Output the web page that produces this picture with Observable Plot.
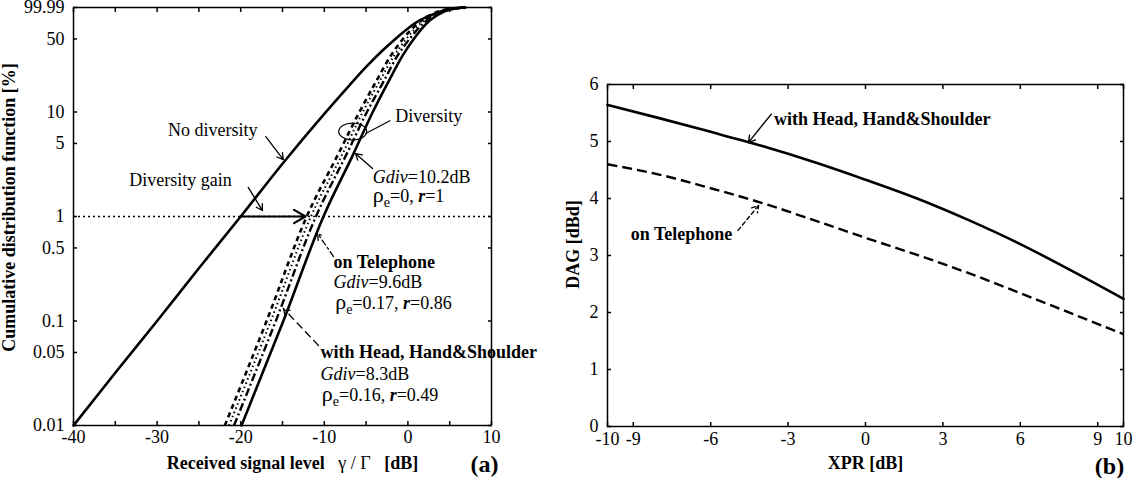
<!DOCTYPE html>
<html><head><meta charset="utf-8">
<script src="https://cdn.jsdelivr.net/npm/d3@7"></script>
<script src="https://cdn.jsdelivr.net/npm/@observablehq/plot@0.6"></script>
<style>
html,body{margin:0;padding:0;background:#fff;}
#wrap{position:relative;width:1134px;height:478px;overflow:hidden;background:#fff;}
#wrap svg{position:absolute;top:0;}
</style></head><body><div id="wrap"></div>
<script>
// ---------- Panel (a): CDF (x in dB, y in %) ----------
const xMajorA = [-40, -30, -20, -10, 0, 10];
const xMinorA = [-35, -25, -15, -5, 5];
const yTicksA = [0.01, 0.05, 0.1, 0.5, 1, 5, 10, 50, 99.99];

const noDivX = [-40, -35, -30, -25, -20, -15, -10, -7, -5, -3, -1.5, 0, 1.5, 3, 4.5, 6.6];
const noDivP = [0.01, 0.032, 0.1, 0.32, 1.0, 3.2, 9.6, 18, 27, 39, 50, 63, 76, 86, 94, 99.99];

const divLevels = [0.01, 0.1, 1, 4, 10, 19, 35, 50, 75, 92, 98.5, 99.99];
const dashedX   = [-21.9, -16.9, -12.1, -8.3, -5.8, -3.9, -2.0, -0.6, 1.6, 3.7, 5.5, 6.8];
const dottedX   = [-21.4, -16.4, -11.6, -7.8, -5.4, -3.5, -1.6, -0.2, 1.9, 3.9, 5.6, 6.8];
const dashDotX  = [-20.8, -15.8, -11.0, -7.3, -4.9, -3.0, -1.2, 0.2, 2.2, 4.1, 5.7, 6.9];
const solidX    = [-19.9, -14.9, -10.1, -6.5, -4.2, -2.4, -0.6, 0.7, 2.6, 4.4, 5.9, 6.9];

const refLevel = [1];
const gainArrow = [{x1: -20, y1: 1, x2: -12.25, y2: 1}];

const labelsA = [
  {x: -18.0, y: 6.7, text: "No diversity", anchor: "end"},
  {x: -27.2, y: 2.21, text: "Diversity gain", anchor: "middle"},
  {x: -1.5, y: 9.2, text: "Diversity", anchor: "start"},
  {x: -4.2, y: 2.36, text: "Gdiv=10.2dB", anchor: "start"},
  {x: -4.2, y: 1.56, text: "ρe=0, r=1", anchor: "start"},
  {x: -8.9, y: 0.233, text: "Gdiv=9.6dB", anchor: "start"},
  {x: -8.7, y: 0.148, text: "ρe=0.17, r=0.86", anchor: "start"},
  {x: -10.45, y: 0.0308, text: "Gdiv=8.3dB", anchor: "start"},
  {x: -10.3, y: 0.0196, text: "ρe=0.16, r=0.49", anchor: "start"}
];
const boldLabelsA = [
  {x: -8.9, y: 0.363, text: "on Telephone"},
  {x: -10.45, y: 0.050, text: "with Head, Hand&Shoulder"}
];
const solidLeadersA = [
  {x1: -17.0, y1: 5.8, x2: -14.9, y2: 3.5},
  {x1: -19.1, y1: 1.9, x2: -17.4, y2: 1.14},
  {x1: -4.23, y1: 2.88, x2: -6.27, y2: 4.0}
];
const plainLeaderA = [{x1: -2.1, y1: 8.3, x2: -5.1, y2: 6.2}];
const phoneLeaderA = [{x1: -8.9, y1: 0.414, x2: -10.8, y2: 0.687}];
const headLeaderA = [{x1: -10.7, y1: 0.0583, x2: -14.9, y2: 0.132}];
const ellipseA = [{x: -6.6, y: 6.5}];

// ---------- Panel (b): DAG vs XPR ----------
const xTicksB = [-10, -9, -6, -3, 0, 3, 6, 9, 10];
const yTicksB = [0, 1, 2, 3, 4, 5, 6];
const xprX     = [-10, -8, -6, -4, -2, 0, 2, 4, 6, 8, 10];
const headDAG  = [5.64, 5.41, 5.17, 4.92, 4.64, 4.33, 4.0, 3.62, 3.2, 2.73, 2.24];
const phoneDAG = [4.6, 4.42, 4.18, 3.92, 3.62, 3.31, 3.01, 2.69, 2.34, 1.98, 1.62];
const labelsB = [
  {x: -3.55, y: 5.39, text: "with Head, Hand&Shoulder"},
  {x: -9.1, y: 3.38, text: "on Telephone"}
];
const headArrowB = [{x1: -3.65, y1: 5.48, x2: -4.54, y2: 4.98}];
const phoneArrowB = [{x1: -4.94, y1: 3.44, x2: -4.14, y2: 3.88}];

// ---------- helpers ----------
const zip = (xs, ys) => xs.map((x, i) => ({x, y: ys[i]}));
const font = "'Liberation Serif', 'Times New Roman', serif";
const style = {fontFamily: font, fontSize: "18px", color: "black", background: "transparent", overflow: "visible"};
const k = 0.5523;
const ellipseSymbol = {
  draw(ctx) {
    const rx = 14, ry = 8.5;
    ctx.moveTo(rx, 0);
    ctx.bezierCurveTo(rx, ry * k, rx * k, ry, 0, ry);
    ctx.bezierCurveTo(-rx * k, ry, -rx, ry * k, -rx, 0);
    ctx.bezierCurveTo(-rx, -ry * k, -rx * k, -ry, 0, -ry);
    ctx.bezierCurveTo(rx * k, -ry, rx, -ry * k, rx, 0);
    ctx.closePath();
  }
};
const blank = () => "";
const fmt = d => String(d);
const arrowOpts = {x1: "x1", y1: "y1", x2: "x2", y2: "y2", stroke: "black", headLength: 8};
const titleOpts = {fontWeight: "bold", fontSize: 18, textAnchor: "middle", lineAnchor: "middle"};

const plotA = Plot.plot({
  width: 560, height: 478,
  marginLeft: 73, marginRight: 69, marginTop: 7, marginBottom: 53,
  x: {domain: [-40, 10]},
  y: {type: "log", domain: [0.01, 99.99]},
  style,
  marks: [
    Plot.ruleY(refLevel, {strokeDasharray: "2,3", strokeWidth: 1.6, strokeLinecap: "butt"}),
    Plot.line(zip(noDivX, noDivP), {x: "x", y: "y", strokeWidth: 2.6, curve: "monotone-x"}),
    Plot.line(zip(dashedX, divLevels), {x: "x", y: "y", strokeWidth: 2.6, strokeDasharray: "5,4", strokeLinecap: "butt", curve: "monotone-x"}),
    Plot.line(zip(dottedX, divLevels), {x: "x", y: "y", strokeWidth: 2, strokeDasharray: "1.5,3", strokeLinecap: "butt", curve: "monotone-x"}),
    Plot.line(zip(dashDotX, divLevels), {x: "x", y: "y", strokeWidth: 2.4, strokeDasharray: "8,3,2,3", strokeLinecap: "butt", curve: "monotone-x"}),
    Plot.line(zip(solidX, divLevels), {x: "x", y: "y", strokeWidth: 2.6, curve: "monotone-x"}),
    Plot.arrow(gainArrow, {...arrowOpts, strokeWidth: 2.2, headLength: 9}),
    Plot.arrow(solidLeadersA, {...arrowOpts, strokeWidth: 1.3}),
    Plot.link(plainLeaderA, {x1: "x1", y1: "y1", x2: "x2", y2: "y2", strokeWidth: 1.2}),
    Plot.arrow(phoneLeaderA, {...arrowOpts, strokeWidth: 1.3, strokeDasharray: "6,3,2,3"}),
    Plot.arrow(headLeaderA, {...arrowOpts, strokeWidth: 1.3, strokeDasharray: "7,5"}),
    Plot.dot(ellipseA, {x: "x", y: "y", symbol: ellipseSymbol, fill: "none", stroke: "black", strokeWidth: 1.2}),
    Plot.text(labelsA.filter(d => d.anchor === "start"), {x: "x", y: "y", text: "text", textAnchor: "start", fontSize: 18}),
    Plot.text(labelsA.filter(d => d.anchor === "end"), {x: "x", y: "y", text: "text", textAnchor: "end", fontSize: 18}),
    Plot.text(labelsA.filter(d => d.anchor === "middle"), {x: "x", y: "y", text: "text", textAnchor: "middle", fontSize: 18}),
    Plot.text(boldLabelsA, {x: "x", y: "y", text: "text", textAnchor: "start", fontSize: 18, fontWeight: "bold"}),
    Plot.frame({strokeWidth: 1.5}),
    Plot.axisX(xMajorA, {anchor: "bottom", tickSize: -4, tickPadding: 9, tickFormat: fmt, strokeWidth: 1.5, label: null, fontSize: 18}),
    Plot.axisX(xMinorA, {anchor: "bottom", tickSize: -4, tickFormat: blank, strokeWidth: 1.5, label: null}),
    Plot.axisX([...xMajorA, ...xMinorA], {anchor: "top", tickSize: -4, tickFormat: blank, strokeWidth: 1.5, label: null}),
    Plot.axisY(yTicksA, {anchor: "left", tickSize: -4, tickFormat: blank, strokeWidth: 1.5, label: null}),
    Plot.axisY(yTicksA, {anchor: "right", tickSize: -4, tickFormat: blank, strokeWidth: 1.5, label: null}),
    Plot.text(yTicksA, {y: d => d, text: fmt, frameAnchor: "left", textAnchor: "end", lineAnchor: "middle", dx: -9, fontSize: 18}),
    Plot.text(["Cumulative distribution function [%]"], {...titleOpts, frameAnchor: "left", dx: -64, dy: -9, rotate: -90}),
    Plot.text(["Received signal level γ / Γ [dB]"], {...titleOpts, frameAnchor: "bottom", dx: 10, dy: 38}),
    Plot.text(["(a)"], {...titleOpts, frameAnchor: "bottom-right", dx: -7, dy: 39, fontSize: 24})
  ]
});

const plotB = Plot.plot({
  width: 574, height: 478,
  marginLeft: 47, marginRight: 11, marginTop: 84, marginBottom: 52,
  x: {domain: [-10, 10]},
  y: {domain: [0, 6]},
  style,
  marks: [
    Plot.line(zip(xprX, headDAG), {x: "x", y: "y", strokeWidth: 2.6, curve: "monotone-x"}),
    Plot.line(zip(xprX, phoneDAG), {x: "x", y: "y", strokeWidth: 2.4, strokeDasharray: "10,5", strokeLinecap: "butt", curve: "monotone-x"}),
    Plot.arrow(headArrowB, {...arrowOpts, strokeWidth: 1.4}),
    Plot.arrow(phoneArrowB, {...arrowOpts, strokeWidth: 1.4, strokeDasharray: "4,3"}),
    Plot.text(labelsB, {x: "x", y: "y", text: "text", textAnchor: "start", fontWeight: "bold", fontSize: 18}),
    Plot.frame({strokeWidth: 1.5}),
    Plot.axisX(xTicksB, {anchor: "bottom", tickSize: -4, tickPadding: 10, tickFormat: fmt, strokeWidth: 1.5, label: null, fontSize: 18}),
    Plot.axisX(xTicksB, {anchor: "top", tickSize: -4, tickFormat: blank, strokeWidth: 1.5, label: null}),
    Plot.axisY(yTicksB, {anchor: "left", tickSize: -4, tickPadding: 13, tickFormat: fmt, strokeWidth: 1.5, label: null, fontSize: 18}),
    Plot.axisY(yTicksB, {anchor: "right", tickSize: -4, tickFormat: blank, strokeWidth: 1.5, label: null}),
    Plot.text(["DAG [dBd]"], {...titleOpts, frameAnchor: "left", dx: -34, dy: -11, rotate: -90}),
    Plot.text(["XPR [dB]"], {...titleOpts, frameAnchor: "bottom", dy: 37}),
    Plot.text(["(b)"], {...titleOpts, frameAnchor: "bottom-right", dx: -14, dy: 40, fontSize: 24})
  ]
});

// rich-text styling of the annotation strings (subscripts, italics)
const IT = {style: "italic"}, BI = {style: "italic", weight: "bold"};
const rho = (rest1, rv) => [["ρ", {size: 22}], ["e", {size: 14, dy: 5}], [rest1, {dy: -5}], ["r", BI], ["=" + rv, {}]];
const rich = {
  "Gdiv=10.2dB": [["Gdiv", IT], ["=10.2dB", {}]],
  "Gdiv=9.6dB": [["Gdiv", IT], ["=9.6dB", {}]],
  "Gdiv=8.3dB": [["Gdiv", IT], ["=8.3dB", {}]],
  "ρe=0, r=1": rho("=0, ", "1"),
  "ρe=0.17, r=0.86": rho("=0.17, ", "0.86"),
  "ρe=0.16, r=0.49": rho("=0.16, ", "0.49"),
  "Received signal level γ / Γ [dB]": [["Received signal level\u2002 ", {}], ["γ / Γ", {weight: "normal"}], ["\u2002 [dB]", {}]]
};
function enrich(svg) {
  d3.select(svg).selectAll("text").each(function () {
    const segs = rich[this.textContent];
    if (!segs) return;
    this.textContent = "";
    const sel = d3.select(this);
    for (const [t, st] of segs) {
      const ts = sel.append("tspan").text(t);
      if (st.style) ts.attr("font-style", st.style);
      if (st.weight) ts.attr("font-weight", st.weight);
      if (st.size) ts.attr("font-size", st.size);
      if (st.dy) ts.attr("dy", st.dy);
    }
  });
}
enrich(plotA); enrich(plotB);
plotA.style.left = "0px";
plotB.style.left = "560px";
document.getElementById("wrap").append(plotA, plotB);
</script>
</body></html>
